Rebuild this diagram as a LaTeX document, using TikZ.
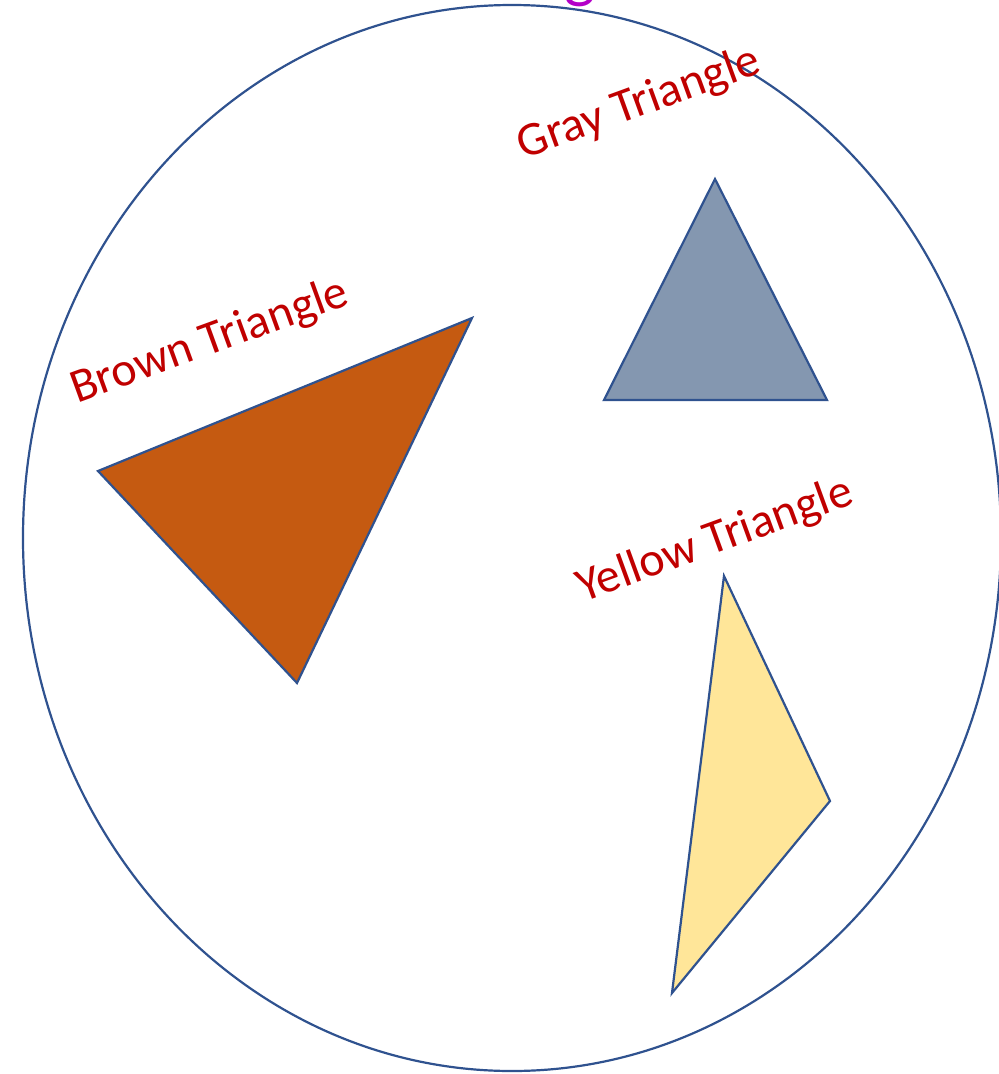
\documentclass[tikz,border=0pt]{standalone}
\usepackage{fontspec}
\setmainfont{Carlito}
\definecolor{ringline}{HTML}{2F528F}
\definecolor{lblred}{HTML}{C00000}
\definecolor{titlepurple}{HTML}{B400C8}
\definecolor{brownfill}{HTML}{C55A11}
\definecolor{grayfill}{HTML}{8497B0}
\definecolor{yellowfill}{HTML}{FFE699}
\begin{document}
\begin{tikzpicture}[x=1pt, y=-1pt,
  ring/.style={draw=ringline, line width=2.2pt},
  tri/.style={draw=ringline, line width=2.2pt, line join=miter},
  lbl/.style={text=lblred, font=\fontsize{48}{48}\selectfont, rotate=20, inner sep=0pt}
]
\useasboundingbox (0,0) rectangle (999,1074);
% cut-off title above the ring
\node[text=titlepurple, font=\fontsize{66}{66}\selectfont, anchor=base, inner sep=0pt] (title) at (580,-5) {g};
% the ring
\draw[ring] (512,538) ellipse [x radius=489, y radius=533];
% triangles
\filldraw[tri, fill=brownfill] (98,471) -- (472,318) -- (297,683) -- cycle;
\filldraw[tri, fill=grayfill] (715,179) -- (827,400) -- (604,400) -- cycle;
\filldraw[tri, fill=yellowfill] (724,576) -- (830,801) -- (672,993) -- cycle;
% labels
\node[lbl] (brownlbl) at (210,342) {Brown Triangle};
\node[lbl] (graylbl) at (639,104) {Gray Triangle};
\node[lbl] (yellowlbl) at (715,541) {Yellow Triangle};
\end{tikzpicture}
\end{document}
